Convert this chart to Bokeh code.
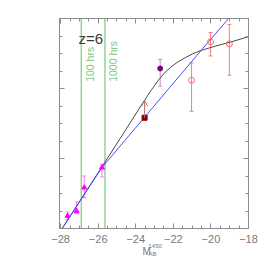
from bokeh.plotting import figure
from bokeh.models import (FixedTicker, LinearAxis, Range1d, Label, Whisker, Title,
                          ColumnDataSource, Arrow, OpenHead, TeeHead)
from bokeh.embed import file_html
from bokeh.resources import INLINE

# ---------------- data ----------------
x_ticks = [-28, -26, -24, -22, -20, -18]
x_tick_labels = ["\u221228", "\u221226", "\u221224", "\u221222", "\u221220", "\u221218"]
x_minor = [-28 + 0.5 * i for i in range(21)]
y_ticks = [0, 4, 8, 12]
y_minor = list(range(13))

tri_x = [-27.63, -27.15, -26.74, -25.80]
tri_y = [0.72, 1.00, 2.34, 3.48]
tri_lo = [0.51, 0.86, 1.77, 2.95]
tri_hi = [0.95, 1.52, 3.00, 3.67]

sq_x = [-23.53]
sq_y = [6.33]
sq_arrow_top = [7.33]

pur_x = [-22.70]
pur_y = [9.14]
pur_lo = [8.13]
pur_hi = [9.66]

circ_x = [-21.03, -20.02, -19.02]
circ_y = [8.47, 10.67, 10.55]
circ_lo = [6.70, 9.86, 8.76]
circ_hi = [9.46, 11.20, 11.66]

model_x = [-27.92, -25.84, -24.72, -23.55, -23.18, -22.80, -22.49, -22.17,
           -21.79, -21.37, -20.99, -20.57, -19.77, -18.97, -18.00]
model_y = [0.00, 3.46, 5.33, 7.30, 7.90, 8.47, 8.87, 9.19,
           9.50, 9.76, 9.97, 10.16, 10.42, 10.65, 10.96]

fit_x = [-27.92, -25.81, -23.53, -20.48, -19.06]
fit_y = [0.00, 3.47, 6.36, 10.23, 12.00]

hours_x = [-26.90, -25.64]
hours_text = ["100 hrs", "1000 hrs"]
hours_text_x = [-26.43, -25.19]
hours_text_y = [8.38, 8.38]

redshift_text = "z=6"
xlabel_main, xlabel_sup, xlabel_sub = "M", "1450", "AB"

# ---------------- figure ----------------
AX = "#8c8c8c"
p = figure(width=258, height=258, output_backend="svg", toolbar_location=None,
           x_range=Range1d(-28.06, -18), y_range=Range1d(0, 12),
           min_border_left=59, min_border_right=10, min_border_top=18,
           min_border_bottom=30, x_axis_location=None, y_axis_location=None)
p.grid.visible = False
p.outline_line_color = AX
p.background_fill_color = "white"
p.border_fill_color = "white"


def style_axis(ax, ticks, minor, labels=None):
    ax.ticker = FixedTicker(ticks=ticks, minor_ticks=minor)
    ax.axis_line_color = AX
    ax.major_tick_line_color = AX
    ax.minor_tick_line_color = AX
    ax.major_tick_in = 5
    ax.major_tick_out = 0
    ax.minor_tick_in = 3
    ax.minor_tick_out = 0
    if labels is None:
        ax.major_label_overrides = {t: "" for t in ticks}
        ax.major_label_standoff = 0
        ax.major_label_text_font_size = "1px"
    else:
        ax.major_label_overrides = dict(zip(ticks, labels))
        ax.major_label_text_font = "Liberation Sans"
        ax.major_label_text_font_size = "11px"
        ax.major_label_text_color = "#7a7a7a"
        ax.major_label_standoff = 6


bottom = LinearAxis()
style_axis(bottom, x_ticks, x_minor, x_tick_labels)
p.add_layout(bottom, "below")
top = LinearAxis()
style_axis(top, x_ticks, x_minor)
p.add_layout(top, "above")
left = LinearAxis()
style_axis(left, y_ticks, y_minor)
p.add_layout(left, "left")
right = LinearAxis()
style_axis(right, y_ticks, y_minor)
p.add_layout(right, "right")

# green exposure-time lines
for hx in hours_x:
    p.segment(x0=hx, y0=0, x1=hx, y1=12, line_color="#96d296", line_width=1.5)
for tx, ty, tt in zip(hours_text_x, hours_text_y, hours_text):
    p.add_layout(Label(x=tx, y=ty, text=tt, angle=1.5708, text_align="left",
                       text_baseline="alphabetic", text_color="#84c884",
                       text_font="Liberation Sans", text_font_size="10.5px"))

# model curve and fit
p.line(model_x, model_y, line_color="#4a4a4a", line_width=1)
p.line(fit_x, fit_y, line_color="#4b4bff", line_width=1)

# error bars
tri_src = ColumnDataSource(dict(x=tri_x, lo=tri_lo, hi=tri_hi))
p.add_layout(Whisker(source=tri_src, base="x", lower="lo", upper="hi",
                     line_color="#ff7cff", line_width=1,
                     upper_head=TeeHead(size=4, line_color="#ff7cff"),
                     lower_head=TeeHead(size=4, line_color="#ff7cff")))
pur_src = ColumnDataSource(dict(x=pur_x, lo=pur_lo, hi=pur_hi))
p.add_layout(Whisker(source=pur_src, base="x", lower="lo", upper="hi",
                     line_color="#c88ec8", line_width=1,
                     upper_head=TeeHead(size=4, line_color="#c88ec8"),
                     lower_head=TeeHead(size=4, line_color="#c88ec8")))
circ_src = ColumnDataSource(dict(x=circ_x, lo=circ_lo, hi=circ_hi))
p.add_layout(Whisker(source=circ_src, base="x", lower="lo", upper="hi",
                     line_color="#ff7a7a", line_width=1,
                     upper_head=TeeHead(size=4, line_color="#ff7a7a"),
                     lower_head=TeeHead(size=4, line_color="#ff7a7a")))

# arrow (lower limit)
p.add_layout(Arrow(x_start=sq_x[0], y_start=sq_y[0], x_end=sq_x[0], y_end=sq_arrow_top[0],
                   line_color="#b87070", line_width=1,
                   end=OpenHead(size=6, line_color="#b87070", line_width=1)))

# markers
p.scatter(tri_x, tri_y, marker="triangle", size=5, color="#ff00ff")
p.scatter(sq_x, sq_y, marker="square", size=5, color="#800000")
p.scatter(pur_x, pur_y, marker="circle", size=5, color="#800080")
p.scatter(circ_x, circ_y, marker="circle", size=6, fill_color=None,
          line_color="#ff6a6a", line_width=1)

# text
p.add_layout(Label(x=-27.05, y=10.86, text=redshift_text, text_color="#3a3a3a",
                   text_font="Liberation Sans", text_font_size="15px",
                   text_baseline="alphabetic"))

# x-axis label M_AB^1450 built from titles in the lower panel
for txt, size, off, so in [(xlabel_main, "10px", 83, 0),
                           (xlabel_sup, "6px", 89, -29),
                           (xlabel_sub, "6px", 89, -14.4)]:
    p.add_layout(Title(text=txt, align="left", offset=off, standoff=so,
                       vertical_align="top", text_font="Liberation Sans",
                       text_font_size=size, text_color="#7a7a7a",
                       text_font_style="normal"), "below")

open("out.html", "w").write(file_html(p, INLINE))
